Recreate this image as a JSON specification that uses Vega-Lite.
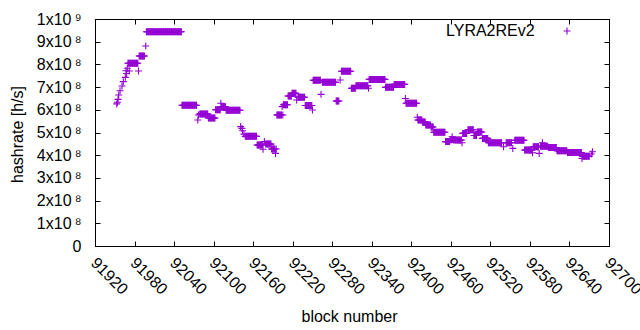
{
"$schema": "https://vega.github.io/schema/vega-lite/v6.json",
"width": 514, "height": 227,
"autosize": {"type": "none"},
"padding": {"left": 95, "top": 19, "right": 31, "bottom": 84},
"background": "white",
"config": {"view": {"stroke": "black", "strokeWidth": 1}, "font": "Liberation Sans",
 "axis": {"grid": false, "domainColor": "black", "tickColor": "black", "labelColor": "black", "titleColor": "black", "labelFontSize": 16, "titleFontSize": 16, "titleFontWeight": "normal", "tickSize": -5, "labelOverlap": false, "labelFlush": false}},
"data": {"values": [
{"block":91953,"hashrate":6.26e8},{"block":91954,"hashrate":6.33e8},{"block":91955,"hashrate":6.46e8},{"block":91956,"hashrate":6.65e8},{"block":91958,"hashrate":6.84e8},{"block":91961,"hashrate":7.05e8},{"block":91963,"hashrate":7.24e8},{"block":91966,"hashrate":7.43e8},{"block":91967,"hashrate":7.72e8},{"block":91968,"hashrate":7.60e8},{"block":91969,"hashrate":7.83e8},{"block":91972,"hashrate":7.71e8},
{"block":91970,"hashrate":8.05e8},{"block":91971,"hashrate":8.05e8},{"block":91972,"hashrate":8.05e8},{"block":91973,"hashrate":8.05e8},{"block":91974,"hashrate":8.05e8},{"block":91975,"hashrate":8.05e8},{"block":91976,"hashrate":8.05e8},{"block":91977,"hashrate":8.05e8},{"block":91978,"hashrate":8.05e8},{"block":91979,"hashrate":8.05e8},{"block":91980,"hashrate":8.05e8},{"block":91981,"hashrate":8.05e8},{"block":91982,"hashrate":8.05e8},{"block":91983,"hashrate":8.05e8},{"block":91984,"hashrate":8.05e8},{"block":91985,"hashrate":8.05e8},
{"block":91986,"hashrate":7.71e8},
{"block":91987,"hashrate":8.37e8},{"block":91988,"hashrate":8.37e8},{"block":91989,"hashrate":8.37e8},{"block":91990,"hashrate":8.37e8},{"block":91991,"hashrate":8.37e8},{"block":91992,"hashrate":8.37e8},{"block":91993,"hashrate":8.37e8},{"block":91994,"hashrate":8.37e8},{"block":91995,"hashrate":8.37e8},
{"block":91997,"hashrate":8.81e8},
{"block":91998,"hashrate":9.44e8},{"block":91999,"hashrate":9.44e8},{"block":92000,"hashrate":9.44e8},{"block":92001,"hashrate":9.44e8},{"block":92002,"hashrate":9.44e8},{"block":92003,"hashrate":9.44e8},{"block":92004,"hashrate":9.44e8},{"block":92005,"hashrate":9.44e8},{"block":92006,"hashrate":9.44e8},{"block":92007,"hashrate":9.44e8},{"block":92008,"hashrate":9.44e8},{"block":92009,"hashrate":9.44e8},{"block":92010,"hashrate":9.44e8},{"block":92011,"hashrate":9.44e8},{"block":92012,"hashrate":9.44e8},{"block":92013,"hashrate":9.44e8},{"block":92014,"hashrate":9.44e8},{"block":92015,"hashrate":9.44e8},{"block":92016,"hashrate":9.44e8},{"block":92017,"hashrate":9.44e8},{"block":92018,"hashrate":9.44e8},{"block":92019,"hashrate":9.44e8},{"block":92020,"hashrate":9.44e8},{"block":92021,"hashrate":9.44e8},{"block":92022,"hashrate":9.44e8},{"block":92023,"hashrate":9.44e8},{"block":92024,"hashrate":9.44e8},{"block":92025,"hashrate":9.44e8},{"block":92026,"hashrate":9.44e8},{"block":92027,"hashrate":9.44e8},{"block":92028,"hashrate":9.44e8},{"block":92029,"hashrate":9.44e8},{"block":92030,"hashrate":9.44e8},{"block":92031,"hashrate":9.44e8},{"block":92032,"hashrate":9.44e8},{"block":92033,"hashrate":9.44e8},{"block":92034,"hashrate":9.44e8},{"block":92035,"hashrate":9.44e8},{"block":92036,"hashrate":9.44e8},{"block":92037,"hashrate":9.44e8},{"block":92038,"hashrate":9.44e8},{"block":92039,"hashrate":9.44e8},{"block":92040,"hashrate":9.44e8},{"block":92041,"hashrate":9.44e8},{"block":92042,"hashrate":9.44e8},{"block":92043,"hashrate":9.44e8},{"block":92044,"hashrate":9.44e8},{"block":92045,"hashrate":9.44e8},{"block":92046,"hashrate":9.44e8},{"block":92047,"hashrate":9.44e8},{"block":92048,"hashrate":9.44e8},{"block":92049,"hashrate":9.44e8},{"block":92050,"hashrate":9.44e8},{"block":92051,"hashrate":9.44e8},
{"block":92052,"hashrate":6.2e8},{"block":92053,"hashrate":6.2e8},{"block":92054,"hashrate":6.2e8},{"block":92055,"hashrate":6.2e8},{"block":92056,"hashrate":6.2e8},{"block":92057,"hashrate":6.2e8},{"block":92058,"hashrate":6.2e8},{"block":92059,"hashrate":6.2e8},{"block":92060,"hashrate":6.2e8},{"block":92061,"hashrate":6.2e8},{"block":92062,"hashrate":6.2e8},{"block":92063,"hashrate":6.2e8},{"block":92064,"hashrate":6.2e8},{"block":92065,"hashrate":6.2e8},{"block":92066,"hashrate":6.2e8},{"block":92067,"hashrate":6.2e8},{"block":92068,"hashrate":6.2e8},{"block":92069,"hashrate":6.2e8},{"block":92070,"hashrate":6.2e8},{"block":92071,"hashrate":6.2e8},{"block":92072,"hashrate":6.2e8},{"block":92073,"hashrate":6.2e8},{"block":92074,"hashrate":6.2e8},
{"block":92076,"hashrate":5.55e8},{"block":92077,"hashrate":5.77e8},
{"block":92079,"hashrate":5.82e8},{"block":92080,"hashrate":5.82e8},{"block":92081,"hashrate":5.82e8},{"block":92082,"hashrate":5.82e8},{"block":92083,"hashrate":5.82e8},{"block":92084,"hashrate":5.82e8},{"block":92085,"hashrate":5.82e8},{"block":92086,"hashrate":5.82e8},{"block":92087,"hashrate":5.82e8},{"block":92088,"hashrate":5.82e8},{"block":92089,"hashrate":5.82e8},{"block":92090,"hashrate":5.82e8},{"block":92091,"hashrate":5.82e8},
{"block":92092,"hashrate":5.64e8},{"block":92093,"hashrate":5.64e8},{"block":92094,"hashrate":5.64e8},{"block":92095,"hashrate":5.64e8},{"block":92096,"hashrate":5.64e8},{"block":92097,"hashrate":5.64e8},{"block":92098,"hashrate":5.64e8},{"block":92099,"hashrate":5.64e8},{"block":92100,"hashrate":5.64e8},{"block":92101,"hashrate":5.64e8},{"block":92102,"hashrate":5.64e8},
{"block":92103,"hashrate":6.0e8},{"block":92104,"hashrate":6.0e8},{"block":92105,"hashrate":6.0e8},{"block":92106,"hashrate":6.0e8},{"block":92107,"hashrate":6.0e8},{"block":92108,"hashrate":6.0e8},{"block":92109,"hashrate":6.0e8},{"block":92110,"hashrate":6.0e8},
{"block":92111,"hashrate":6.29e8},
{"block":92112,"hashrate":6.13e8},{"block":92113,"hashrate":6.13e8},{"block":92114,"hashrate":6.13e8},{"block":92115,"hashrate":6.13e8},{"block":92116,"hashrate":6.13e8},{"block":92117,"hashrate":6.13e8},{"block":92118,"hashrate":6.13e8},
{"block":92119,"hashrate":5.98e8},{"block":92120,"hashrate":5.98e8},{"block":92121,"hashrate":5.98e8},{"block":92122,"hashrate":5.98e8},{"block":92123,"hashrate":5.98e8},{"block":92124,"hashrate":5.98e8},{"block":92125,"hashrate":5.98e8},{"block":92126,"hashrate":5.98e8},{"block":92127,"hashrate":5.98e8},{"block":92128,"hashrate":5.98e8},{"block":92129,"hashrate":5.98e8},{"block":92130,"hashrate":5.98e8},{"block":92131,"hashrate":5.98e8},{"block":92132,"hashrate":5.98e8},{"block":92133,"hashrate":5.98e8},{"block":92134,"hashrate":5.98e8},{"block":92135,"hashrate":5.98e8},{"block":92136,"hashrate":5.98e8},{"block":92137,"hashrate":5.98e8},{"block":92138,"hashrate":5.98e8},{"block":92139,"hashrate":5.98e8},{"block":92140,"hashrate":5.98e8},
{"block":92141,"hashrate":5.26e8},{"block":92143,"hashrate":5.18e8},{"block":92144,"hashrate":5.08e8},{"block":92146,"hashrate":4.93e8},
{"block":92148,"hashrate":4.83e8},{"block":92149,"hashrate":4.83e8},{"block":92150,"hashrate":4.83e8},{"block":92151,"hashrate":4.83e8},{"block":92152,"hashrate":4.83e8},{"block":92153,"hashrate":4.83e8},{"block":92154,"hashrate":4.83e8},{"block":92155,"hashrate":4.83e8},{"block":92156,"hashrate":4.83e8},{"block":92157,"hashrate":4.83e8},{"block":92158,"hashrate":4.83e8},{"block":92159,"hashrate":4.83e8},{"block":92160,"hashrate":4.83e8},{"block":92161,"hashrate":4.83e8},{"block":92162,"hashrate":4.83e8},{"block":92163,"hashrate":4.83e8},{"block":92164,"hashrate":4.83e8},{"block":92165,"hashrate":4.83e8},
{"block":92166,"hashrate":4.45e8},{"block":92167,"hashrate":4.45e8},{"block":92168,"hashrate":4.45e8},{"block":92169,"hashrate":4.45e8},{"block":92170,"hashrate":4.45e8},{"block":92171,"hashrate":4.45e8},{"block":92172,"hashrate":4.45e8},{"block":92173,"hashrate":4.45e8},{"block":92174,"hashrate":4.45e8},
{"block":92175,"hashrate":4.26e8},{"block":92177,"hashrate":4.6e8},
{"block":92179,"hashrate":4.49e8},{"block":92180,"hashrate":4.49e8},{"block":92181,"hashrate":4.49e8},{"block":92182,"hashrate":4.49e8},{"block":92183,"hashrate":4.49e8},{"block":92184,"hashrate":4.49e8},{"block":92185,"hashrate":4.49e8},{"block":92186,"hashrate":4.49e8},{"block":92187,"hashrate":4.49e8},
{"block":92188,"hashrate":4.27e8},{"block":92189,"hashrate":4.27e8},{"block":92190,"hashrate":4.27e8},{"block":92191,"hashrate":4.27e8},{"block":92192,"hashrate":4.27e8},{"block":92193,"hashrate":4.27e8},{"block":92195,"hashrate":4.27e8},
{"block":92194,"hashrate":4.08e8},
{"block":92196,"hashrate":5.77e8},{"block":92197,"hashrate":5.77e8},{"block":92198,"hashrate":5.77e8},{"block":92199,"hashrate":5.77e8},{"block":92200,"hashrate":5.77e8},{"block":92201,"hashrate":5.77e8},{"block":92202,"hashrate":5.77e8},{"block":92203,"hashrate":5.77e8},{"block":92205,"hashrate":5.77e8},
{"block":92204,"hashrate":6.14e8},
{"block":92206,"hashrate":6.22e8},{"block":92207,"hashrate":6.22e8},{"block":92208,"hashrate":6.22e8},{"block":92209,"hashrate":6.22e8},{"block":92210,"hashrate":6.22e8},{"block":92211,"hashrate":6.22e8},{"block":92212,"hashrate":6.22e8},
{"block":92213,"hashrate":6.61e8},{"block":92214,"hashrate":6.61e8},{"block":92215,"hashrate":6.61e8},{"block":92216,"hashrate":6.61e8},{"block":92217,"hashrate":6.61e8},{"block":92218,"hashrate":6.61e8},
{"block":92219,"hashrate":6.73e8},{"block":92220,"hashrate":6.73e8},{"block":92221,"hashrate":6.73e8},{"block":92222,"hashrate":6.73e8},{"block":92223,"hashrate":6.73e8},{"block":92224,"hashrate":6.73e8},{"block":92225,"hashrate":6.73e8},
{"block":92226,"hashrate":6.43e8},
{"block":92228,"hashrate":6.55e8},{"block":92229,"hashrate":6.55e8},{"block":92230,"hashrate":6.55e8},{"block":92231,"hashrate":6.55e8},{"block":92232,"hashrate":6.55e8},{"block":92233,"hashrate":6.55e8},{"block":92234,"hashrate":6.55e8},{"block":92235,"hashrate":6.55e8},{"block":92236,"hashrate":6.55e8},{"block":92237,"hashrate":6.55e8},{"block":92238,"hashrate":6.55e8},
{"block":92239,"hashrate":6.19e8},{"block":92240,"hashrate":6.19e8},{"block":92241,"hashrate":6.19e8},{"block":92242,"hashrate":6.19e8},{"block":92243,"hashrate":6.19e8},{"block":92244,"hashrate":6.19e8},{"block":92245,"hashrate":6.19e8},{"block":92246,"hashrate":6.19e8},{"block":92247,"hashrate":6.19e8},{"block":92248,"hashrate":6.19e8},{"block":92249,"hashrate":6.19e8},
{"block":92250,"hashrate":5.99e8},
{"block":92251,"hashrate":7.3e8},{"block":92252,"hashrate":7.3e8},{"block":92253,"hashrate":7.3e8},{"block":92254,"hashrate":7.3e8},{"block":92255,"hashrate":7.3e8},{"block":92256,"hashrate":7.3e8},{"block":92257,"hashrate":7.3e8},{"block":92258,"hashrate":7.3e8},{"block":92259,"hashrate":7.3e8},{"block":92260,"hashrate":7.3e8},{"block":92261,"hashrate":7.3e8},{"block":92262,"hashrate":7.3e8},
{"block":92263,"hashrate":6.68e8},
{"block":92265,"hashrate":7.21e8},{"block":92266,"hashrate":7.21e8},{"block":92267,"hashrate":7.21e8},{"block":92268,"hashrate":7.21e8},{"block":92269,"hashrate":7.21e8},{"block":92270,"hashrate":7.21e8},{"block":92271,"hashrate":7.21e8},{"block":92272,"hashrate":7.21e8},{"block":92273,"hashrate":7.21e8},{"block":92274,"hashrate":7.21e8},{"block":92275,"hashrate":7.21e8},{"block":92276,"hashrate":7.21e8},{"block":92277,"hashrate":7.21e8},{"block":92278,"hashrate":7.21e8},{"block":92279,"hashrate":7.21e8},{"block":92280,"hashrate":7.21e8},{"block":92281,"hashrate":7.21e8},{"block":92282,"hashrate":7.21e8},{"block":92283,"hashrate":7.21e8},{"block":92284,"hashrate":7.21e8},{"block":92285,"hashrate":7.21e8},
{"block":92286,"hashrate":6.39e8},{"block":92287,"hashrate":6.39e8},{"block":92288,"hashrate":6.39e8},{"block":92289,"hashrate":6.39e8},{"block":92290,"hashrate":6.39e8},
{"block":92292,"hashrate":7.31e8},
{"block":92294,"hashrate":7.7e8},{"block":92295,"hashrate":7.7e8},{"block":92296,"hashrate":7.7e8},{"block":92297,"hashrate":7.7e8},{"block":92298,"hashrate":7.7e8},{"block":92299,"hashrate":7.7e8},{"block":92300,"hashrate":7.7e8},{"block":92301,"hashrate":7.7e8},{"block":92302,"hashrate":7.7e8},{"block":92303,"hashrate":7.7e8},{"block":92304,"hashrate":7.7e8},{"block":92305,"hashrate":7.7e8},{"block":92306,"hashrate":7.7e8},{"block":92307,"hashrate":7.7e8},{"block":92308,"hashrate":7.7e8},
{"block":92309,"hashrate":6.95e8},{"block":92310,"hashrate":6.95e8},{"block":92311,"hashrate":6.95e8},{"block":92312,"hashrate":6.95e8},{"block":92313,"hashrate":6.95e8},{"block":92314,"hashrate":6.95e8},{"block":92315,"hashrate":6.95e8},
{"block":92316,"hashrate":7.06e8},{"block":92317,"hashrate":7.06e8},{"block":92318,"hashrate":7.06e8},{"block":92319,"hashrate":7.06e8},{"block":92320,"hashrate":7.06e8},{"block":92321,"hashrate":7.06e8},{"block":92322,"hashrate":7.06e8},{"block":92323,"hashrate":7.06e8},{"block":92324,"hashrate":7.06e8},{"block":92325,"hashrate":7.06e8},{"block":92326,"hashrate":7.06e8},{"block":92327,"hashrate":7.06e8},{"block":92328,"hashrate":7.06e8},{"block":92329,"hashrate":7.06e8},{"block":92330,"hashrate":7.06e8},{"block":92331,"hashrate":7.06e8},{"block":92332,"hashrate":7.06e8},{"block":92333,"hashrate":7.06e8},{"block":92334,"hashrate":7.06e8},
{"block":92335,"hashrate":6.95e8},
{"block":92336,"hashrate":7.34e8},{"block":92337,"hashrate":7.34e8},{"block":92338,"hashrate":7.34e8},{"block":92339,"hashrate":7.34e8},{"block":92340,"hashrate":7.34e8},{"block":92341,"hashrate":7.34e8},{"block":92342,"hashrate":7.34e8},{"block":92343,"hashrate":7.34e8},{"block":92344,"hashrate":7.34e8},{"block":92345,"hashrate":7.34e8},{"block":92346,"hashrate":7.34e8},{"block":92347,"hashrate":7.34e8},{"block":92348,"hashrate":7.34e8},{"block":92349,"hashrate":7.34e8},{"block":92350,"hashrate":7.34e8},{"block":92351,"hashrate":7.34e8},{"block":92352,"hashrate":7.34e8},{"block":92353,"hashrate":7.34e8},{"block":92354,"hashrate":7.34e8},{"block":92355,"hashrate":7.34e8},{"block":92356,"hashrate":7.34e8},{"block":92357,"hashrate":7.34e8},{"block":92358,"hashrate":7.34e8},{"block":92359,"hashrate":7.34e8},{"block":92360,"hashrate":7.34e8},
{"block":92361,"hashrate":6.99e8},{"block":92362,"hashrate":6.99e8},{"block":92363,"hashrate":6.99e8},{"block":92364,"hashrate":6.99e8},{"block":92365,"hashrate":6.99e8},{"block":92366,"hashrate":6.99e8},{"block":92367,"hashrate":6.99e8},{"block":92368,"hashrate":6.99e8},{"block":92369,"hashrate":6.99e8},{"block":92370,"hashrate":6.99e8},{"block":92371,"hashrate":6.99e8},{"block":92372,"hashrate":6.99e8},{"block":92373,"hashrate":6.99e8},
{"block":92374,"hashrate":7.12e8},{"block":92375,"hashrate":7.12e8},{"block":92376,"hashrate":7.12e8},{"block":92377,"hashrate":7.12e8},{"block":92378,"hashrate":7.12e8},{"block":92379,"hashrate":7.12e8},{"block":92380,"hashrate":7.12e8},{"block":92381,"hashrate":7.12e8},{"block":92382,"hashrate":7.12e8},{"block":92383,"hashrate":7.12e8},{"block":92384,"hashrate":7.12e8},{"block":92385,"hashrate":7.12e8},{"block":92386,"hashrate":7.12e8},{"block":92387,"hashrate":7.12e8},{"block":92388,"hashrate":7.12e8},{"block":92389,"hashrate":7.12e8},{"block":92390,"hashrate":7.12e8},
{"block":92391,"hashrate":6.5e8},
{"block":92392,"hashrate":6.29e8},{"block":92393,"hashrate":6.29e8},{"block":92394,"hashrate":6.29e8},{"block":92395,"hashrate":6.29e8},{"block":92396,"hashrate":6.29e8},{"block":92397,"hashrate":6.29e8},{"block":92398,"hashrate":6.29e8},{"block":92399,"hashrate":6.29e8},{"block":92400,"hashrate":6.29e8},{"block":92401,"hashrate":6.29e8},{"block":92402,"hashrate":6.29e8},{"block":92403,"hashrate":6.29e8},{"block":92404,"hashrate":6.29e8},{"block":92405,"hashrate":6.29e8},{"block":92406,"hashrate":6.29e8},{"block":92407,"hashrate":6.29e8},{"block":92408,"hashrate":6.29e8},
{"block":92409,"hashrate":5.67e8},
{"block":92410,"hashrate":5.55e8},{"block":92411,"hashrate":5.55e8},{"block":92412,"hashrate":5.55e8},{"block":92413,"hashrate":5.55e8},{"block":92414,"hashrate":5.55e8},{"block":92415,"hashrate":5.55e8},{"block":92416,"hashrate":5.55e8},
{"block":92417,"hashrate":5.46e8},{"block":92418,"hashrate":5.46e8},{"block":92419,"hashrate":5.46e8},{"block":92420,"hashrate":5.46e8},{"block":92421,"hashrate":5.46e8},
{"block":92422,"hashrate":5.33e8},{"block":92423,"hashrate":5.33e8},{"block":92424,"hashrate":5.33e8},{"block":92425,"hashrate":5.33e8},{"block":92426,"hashrate":5.33e8},{"block":92427,"hashrate":5.33e8},{"block":92428,"hashrate":5.33e8},{"block":92429,"hashrate":5.33e8},
{"block":92430,"hashrate":5.24e8},{"block":92431,"hashrate":5.24e8},{"block":92432,"hashrate":5.24e8},{"block":92433,"hashrate":5.24e8},
{"block":92434,"hashrate":5.01e8},{"block":92435,"hashrate":5.01e8},{"block":92436,"hashrate":5.01e8},{"block":92437,"hashrate":5.01e8},{"block":92438,"hashrate":5.01e8},{"block":92439,"hashrate":5.01e8},{"block":92440,"hashrate":5.01e8},{"block":92441,"hashrate":5.01e8},{"block":92442,"hashrate":5.01e8},{"block":92443,"hashrate":5.01e8},{"block":92444,"hashrate":5.01e8},{"block":92445,"hashrate":5.01e8},{"block":92446,"hashrate":5.01e8},{"block":92447,"hashrate":5.01e8},{"block":92448,"hashrate":5.01e8},{"block":92449,"hashrate":5.01e8},{"block":92450,"hashrate":5.01e8},{"block":92451,"hashrate":5.01e8},
{"block":92452,"hashrate":4.6e8},{"block":92453,"hashrate":4.6e8},{"block":92454,"hashrate":4.6e8},{"block":92455,"hashrate":4.6e8},{"block":92456,"hashrate":4.6e8},{"block":92457,"hashrate":4.6e8},{"block":92458,"hashrate":4.6e8},
{"block":92459,"hashrate":4.68e8},{"block":92460,"hashrate":4.68e8},{"block":92461,"hashrate":4.68e8},{"block":92463,"hashrate":4.68e8},{"block":92464,"hashrate":4.68e8},{"block":92465,"hashrate":4.68e8},
{"block":92462,"hashrate":4.81e8},
{"block":92466,"hashrate":4.67e8},{"block":92467,"hashrate":4.67e8},{"block":92468,"hashrate":4.67e8},{"block":92469,"hashrate":4.67e8},{"block":92470,"hashrate":4.67e8},{"block":92471,"hashrate":4.67e8},{"block":92472,"hashrate":4.67e8},{"block":92473,"hashrate":4.67e8},{"block":92474,"hashrate":4.67e8},{"block":92475,"hashrate":4.67e8},{"block":92476,"hashrate":4.67e8},
{"block":92477,"hashrate":4.55e8},
{"block":92478,"hashrate":4.96e8},{"block":92479,"hashrate":4.96e8},{"block":92480,"hashrate":4.96e8},{"block":92481,"hashrate":4.96e8},{"block":92482,"hashrate":4.96e8},{"block":92483,"hashrate":4.96e8},{"block":92484,"hashrate":4.96e8},
{"block":92486,"hashrate":5.12e8},{"block":92487,"hashrate":5.12e8},{"block":92488,"hashrate":5.12e8},{"block":92489,"hashrate":5.12e8},{"block":92490,"hashrate":5.12e8},{"block":92491,"hashrate":5.12e8},{"block":92492,"hashrate":5.12e8},{"block":92493,"hashrate":5.12e8},{"block":92494,"hashrate":5.12e8},
{"block":92495,"hashrate":4.87e8},{"block":92496,"hashrate":4.87e8},{"block":92497,"hashrate":4.87e8},{"block":92498,"hashrate":4.87e8},{"block":92499,"hashrate":4.87e8},
{"block":92500,"hashrate":5.02e8},{"block":92501,"hashrate":5.02e8},{"block":92502,"hashrate":5.02e8},{"block":92503,"hashrate":5.02e8},{"block":92504,"hashrate":5.02e8},{"block":92505,"hashrate":5.02e8},{"block":92506,"hashrate":5.02e8},{"block":92507,"hashrate":5.02e8},
{"block":92508,"hashrate":4.74e8},{"block":92509,"hashrate":4.74e8},{"block":92510,"hashrate":4.74e8},{"block":92511,"hashrate":4.74e8},{"block":92512,"hashrate":4.74e8},{"block":92513,"hashrate":4.74e8},{"block":92514,"hashrate":4.74e8},{"block":92515,"hashrate":4.74e8},{"block":92516,"hashrate":4.74e8},
{"block":92517,"hashrate":4.55e8},{"block":92518,"hashrate":4.55e8},{"block":92519,"hashrate":4.55e8},{"block":92520,"hashrate":4.55e8},{"block":92521,"hashrate":4.55e8},{"block":92522,"hashrate":4.55e8},{"block":92523,"hashrate":4.55e8},{"block":92524,"hashrate":4.55e8},{"block":92525,"hashrate":4.55e8},{"block":92526,"hashrate":4.55e8},{"block":92527,"hashrate":4.55e8},{"block":92528,"hashrate":4.55e8},{"block":92529,"hashrate":4.55e8},{"block":92530,"hashrate":4.55e8},{"block":92531,"hashrate":4.55e8},{"block":92532,"hashrate":4.55e8},{"block":92533,"hashrate":4.55e8},{"block":92534,"hashrate":4.55e8},{"block":92535,"hashrate":4.55e8},{"block":92536,"hashrate":4.55e8},{"block":92537,"hashrate":4.55e8},
{"block":92540,"hashrate":4.37e8},
{"block":92544,"hashrate":4.55e8},{"block":92545,"hashrate":4.55e8},{"block":92546,"hashrate":4.55e8},{"block":92547,"hashrate":4.55e8},{"block":92548,"hashrate":4.55e8},{"block":92549,"hashrate":4.55e8},{"block":92550,"hashrate":4.55e8},{"block":92551,"hashrate":4.55e8},{"block":92552,"hashrate":4.55e8},
{"block":92554,"hashrate":4.3e8},
{"block":92557,"hashrate":4.66e8},{"block":92558,"hashrate":4.66e8},{"block":92559,"hashrate":4.66e8},{"block":92560,"hashrate":4.66e8},{"block":92561,"hashrate":4.66e8},{"block":92562,"hashrate":4.66e8},{"block":92563,"hashrate":4.66e8},{"block":92564,"hashrate":4.66e8},{"block":92565,"hashrate":4.66e8},{"block":92566,"hashrate":4.66e8},{"block":92567,"hashrate":4.66e8},{"block":92568,"hashrate":4.66e8},{"block":92569,"hashrate":4.66e8},{"block":92570,"hashrate":4.66e8},{"block":92571,"hashrate":4.66e8},
{"block":92572,"hashrate":4.23e8},{"block":92573,"hashrate":4.23e8},{"block":92574,"hashrate":4.23e8},{"block":92575,"hashrate":4.23e8},{"block":92576,"hashrate":4.23e8},{"block":92577,"hashrate":4.23e8},{"block":92578,"hashrate":4.23e8},{"block":92579,"hashrate":4.23e8},{"block":92580,"hashrate":4.23e8},{"block":92581,"hashrate":4.23e8},{"block":92582,"hashrate":4.23e8},{"block":92583,"hashrate":4.23e8},
{"block":92584,"hashrate":4.11e8},
{"block":92585,"hashrate":4.37e8},{"block":92586,"hashrate":4.37e8},{"block":92587,"hashrate":4.37e8},{"block":92588,"hashrate":4.37e8},{"block":92589,"hashrate":4.37e8},{"block":92590,"hashrate":4.37e8},{"block":92591,"hashrate":4.37e8},{"block":92592,"hashrate":4.37e8},{"block":92593,"hashrate":4.37e8},
{"block":92594,"hashrate":4.08e8},
{"block":92596,"hashrate":4.39e8},{"block":92597,"hashrate":4.39e8},{"block":92598,"hashrate":4.39e8},{"block":92599,"hashrate":4.39e8},{"block":92600,"hashrate":4.39e8},{"block":92601,"hashrate":4.39e8},{"block":92602,"hashrate":4.39e8},{"block":92603,"hashrate":4.39e8},{"block":92604,"hashrate":4.39e8},{"block":92605,"hashrate":4.39e8},{"block":92606,"hashrate":4.39e8},{"block":92607,"hashrate":4.39e8},
{"block":92599,"hashrate":4.55e8},
{"block":92608,"hashrate":4.34e8},{"block":92609,"hashrate":4.34e8},{"block":92610,"hashrate":4.34e8},{"block":92611,"hashrate":4.34e8},{"block":92612,"hashrate":4.34e8},{"block":92613,"hashrate":4.34e8},{"block":92614,"hashrate":4.34e8},{"block":92615,"hashrate":4.34e8},{"block":92616,"hashrate":4.34e8},{"block":92617,"hashrate":4.34e8},{"block":92618,"hashrate":4.34e8},{"block":92619,"hashrate":4.34e8},{"block":92620,"hashrate":4.34e8},
{"block":92621,"hashrate":4.2e8},{"block":92622,"hashrate":4.2e8},{"block":92623,"hashrate":4.2e8},{"block":92624,"hashrate":4.2e8},{"block":92625,"hashrate":4.2e8},{"block":92626,"hashrate":4.2e8},{"block":92627,"hashrate":4.2e8},{"block":92628,"hashrate":4.2e8},{"block":92629,"hashrate":4.2e8},{"block":92630,"hashrate":4.2e8},{"block":92631,"hashrate":4.2e8},{"block":92632,"hashrate":4.2e8},{"block":92633,"hashrate":4.2e8},{"block":92634,"hashrate":4.2e8},{"block":92635,"hashrate":4.2e8},{"block":92636,"hashrate":4.2e8},
{"block":92637,"hashrate":4.12e8},{"block":92638,"hashrate":4.12e8},{"block":92639,"hashrate":4.12e8},{"block":92640,"hashrate":4.12e8},{"block":92641,"hashrate":4.12e8},{"block":92642,"hashrate":4.12e8},{"block":92643,"hashrate":4.12e8},{"block":92644,"hashrate":4.12e8},{"block":92645,"hashrate":4.12e8},{"block":92646,"hashrate":4.12e8},{"block":92647,"hashrate":4.12e8},{"block":92648,"hashrate":4.12e8},{"block":92649,"hashrate":4.12e8},{"block":92650,"hashrate":4.12e8},{"block":92651,"hashrate":4.12e8},{"block":92652,"hashrate":4.12e8},{"block":92653,"hashrate":4.12e8},{"block":92654,"hashrate":4.12e8},{"block":92655,"hashrate":4.12e8},{"block":92656,"hashrate":4.12e8},{"block":92657,"hashrate":4.12e8},{"block":92658,"hashrate":4.12e8},
{"block":92659,"hashrate":3.86e8},
{"block":92660,"hashrate":3.95e8},{"block":92661,"hashrate":3.95e8},{"block":92662,"hashrate":3.95e8},{"block":92663,"hashrate":3.95e8},{"block":92664,"hashrate":3.95e8},{"block":92665,"hashrate":3.95e8},{"block":92666,"hashrate":3.95e8},{"block":92667,"hashrate":3.95e8},{"block":92668,"hashrate":3.95e8},{"block":92669,"hashrate":3.95e8},{"block":92670,"hashrate":3.95e8},
{"block":92673,"hashrate":4.05e8},{"block":92675,"hashrate":4.15e8}
]},
"layer": [
 {"mark": {"type": "point", "shape": "M-1,0H1M0,-1V1", "filled": false, "strokeWidth": 1.1, "size": 49, "opacity": 1},
  "encoding": {
   "x": {"field": "block", "type": "quantitative", "scale": {"domain": [91920, 92700], "nice": false, "zero": false},
    "axis": {"orient": "bottom", "values": [91920,91980,92040,92100,92160,92220,92280,92340,92400,92460,92520,92580,92640,92700], "format": "d", "title": "block number", "labelAngle": 45, "labelAlign": "left", "labelBaseline": "middle", "labelPadding": 19, "labelOffset": -2, "titleX": 254, "titleY": 70, "titleBaseline": "middle"}},
   "y": {"field": "hashrate", "type": "quantitative", "scale": {"domain": [0, 1000000000], "nice": false},
    "axis": {"orient": "left", "values": [0,100000000,200000000,300000000,400000000,500000000,600000000,700000000,800000000,900000000,1000000000], "labelExpr": "datum.value == 0 ? '0' : (datum.value >= 1e9 ? '1x10\u2009\u2079' : round(datum.value/1e8) + 'x10\u2009\u2078')", "labelPadding": 19, "title": "hashrate [h/s]", "titleX": -78, "titleY": 115, "titleBaseline": "middle"}},
   "color": {"datum": "LYRA2REv2", "scale": {"range": ["#9400d3"]},
    "legend": {"orient": "none", "legendX": 351, "legendY": 7, "title": "LYRA2REv2", "titleOrient": "left", "titleFontSize": 16, "titleFontWeight": "normal", "titleColor": "black", "titlePadding": 27, "labelExpr": "''", "symbolType": "M-1,0H1M0,-1V1", "symbolSize": 49, "symbolStrokeWidth": 1.1, "symbolStrokeColor": "#9400d3", "symbolFillColor": "transparent"}}
  }},
 {"mark": {"type": "point", "opacity": 0},
  "encoding": {
   "x": {"field": "block", "type": "quantitative", "scale": {"domain": [91920, 92700], "nice": false, "zero": false},
    "axis": {"orient": "top", "values": [91920,91980,92040,92100,92160,92220,92280,92340,92400,92460,92520,92580,92640,92700], "labels": false, "title": null}},
   "y": {"field": "hashrate", "type": "quantitative", "scale": {"domain": [0, 1000000000], "nice": false},
    "axis": {"orient": "right", "values": [0,100000000,200000000,300000000,400000000,500000000,600000000,700000000,800000000,900000000,1000000000], "labels": false, "title": null}}
  }}
],
"resolve": {"axis": {"x": "independent", "y": "independent"}}
}
